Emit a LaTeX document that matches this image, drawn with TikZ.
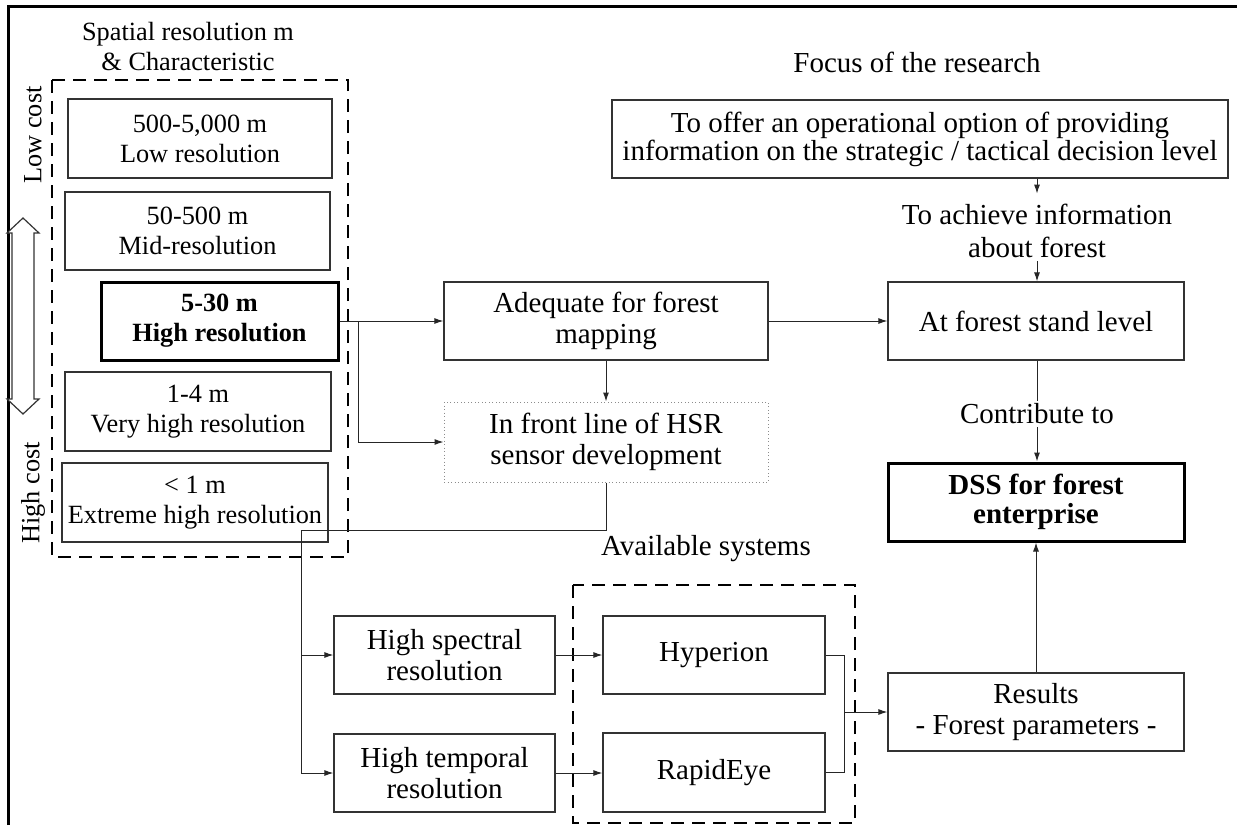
\documentclass[tikz,border=0pt]{standalone}
\usepackage{fontspec}
\setmainfont{Liberation Serif}
\usetikzlibrary{arrows.meta}
\newcommand{\fsR}{\fontsize{29}{31}\selectfont}
\newcommand{\fsL}{\fontsize{26.3}{30}\selectfont}
\tikzset{
  box/.style={draw=black!80, line width=1.2pt, fill=white, align=center, inner sep=0pt, font=\fsR},
  lbox/.style={box, font=\fsL},
  thickbox/.style={box, draw=black, line width=3pt},
  lbl/.style={align=center, inner sep=0pt, font=\fsR},
  arr/.style={-{Latex[length=9pt,width=6pt]}, line width=1pt, draw=black!85},
  ln/.style={line width=1pt, draw=black!85},
  grp/.style={draw=black, line width=2pt, dash pattern=on 13pt off 8pt},
}
\begin{document}
\begin{tikzpicture}[x=1pt,y=-1pt]
\useasboundingbox (0,0) rectangle (1237,825);
% frame
\draw[line width=3pt] (8,825) -- (8,6) -- (1237,6);

% left group
\node[lbl, font=\fsL] (sptitle) at (188,47) {Spatial resolution m\\\& Characteristic};
\draw[grp] (52,80) rectangle (348,557);
\node[lbox, minimum width=264pt, minimum height=79pt] (lowres) at (200,138.5) {500-5,000 m\\Low resolution};
\node[lbox, minimum width=265pt, minimum height=78pt] (midres) at (197.5,231) {50-500 m\\Mid-resolution};
\node[lbox, thickbox, font=\fsL\bfseries, minimum width=237pt, minimum height=78pt] (highres) at (219.5,321) {5-30 m\\High resolution};
\node[lbox, minimum width=266pt, minimum height=79pt] (vhighres) at (198,411.5) {1-4 m\\Very high resolution};
\node[lbox, minimum width=266pt, minimum height=79pt] (extreme) at (195,502.5) {{<} 1 m\\Extreme high resolution};

% cost arrow
\draw[line width=1.2pt, draw=black!80, fill=white] (23,218) -- (39,233) -- (34,233) -- (34,399) -- (39,399) -- (23,414) -- (7,399) -- (12,399) -- (12,233) -- (7,233) -- cycle;
\node[lbl, font=\fsL, rotate=90] (lowcost) at (33,135) {Low cost};
\node[lbl, font=\fsL, rotate=90] (highcost) at (33,493) {High cost};

% middle
\node[box, minimum width=324pt, minimum height=78pt] (adequate) at (606,321) {Adequate for forest\\mapping};
\node[box, draw=black!45, dash pattern=on 1pt off 2.5pt, line width=1pt, minimum width=324pt, minimum height=80pt] (frontline) at (606,442) {In front line of HSR\\sensor development};

% right top
\node[lbl] (focus) at (917,62) {Focus of the research};
\node[box, font=\fontsize{29}{28}\selectfont, minimum width=616pt, minimum height=78pt] (topbox) at (920,139) {To offer an operational option of providing\\information on the strategic / tactical decision level};
\node[lbl, font=\fontsize{29}{33}\selectfont] (achieve) at (1037,231) {To achieve information\\about forest};
\node[box, minimum width=296pt, minimum height=78pt] (atforest) at (1036,321) {At forest stand level};
\node[lbl, inner ysep=3pt, fill=white] (contribute) at (1037,414) {Contribute to};
\node[box, thickbox, font=\fontsize{29}{29}\selectfont\bfseries, minimum width=296pt, minimum height=78pt] (dss) at (1036,502) {DSS for forest\\enterprise};
\node[box, minimum width=296pt, minimum height=78pt] (results) at (1036,712) {Results\\- Forest parameters -};

% bottom
\node[lbl] (available) at (706,549) {Available systems};
\draw[grp] (573,585) rectangle (855,823);
\node[box, minimum width=222pt, minimum height=78pt] (hyperion) at (714,655) {Hyperion};
\node[box, minimum width=222pt, minimum height=79pt] (rapideye) at (714,772.5) {RapidEye};
\node[box, minimum width=221pt, minimum height=78pt] (spectral) at (444.5,655) {High spectral\\resolution};
\node[box, minimum width=221pt, minimum height=78pt] (temporal) at (444.5,773) {High temporal\\resolution};

% connectors
\coordinate (hsplit) at (358,321);
\draw[arr] (highres.east) -- (adequate.west);
\draw[arr] (hsplit) |- (frontline.west);
\draw[arr] (adequate.south) -- (frontline.north);
\draw[arr] (adequate.east) -- (atforest.west);
\draw[arr] (topbox.south -| achieve.north) -- ++(0,15);
\draw[arr] (achieve.south) ++(0,3) -- (atforest.north -| achieve.south);
\draw[ln] (atforest.south -| contribute.north) -- (contribute.north);
\draw[arr] (contribute.south) -- (dss.north -| contribute.south);
\draw[arr] (results.north) -- (dss.south);

\coordinate (c1) at (301,530);
\draw[ln] (frontline.south) |- (c1);
\draw[arr] (c1) |- (temporal.west);
\draw[arr] (c1) |- (spectral.west);
\draw[arr] (spectral.east) -- (hyperion.west);
\draw[arr] (temporal.east) -- (temporal.east -| rapideye.west);

\coordinate (m) at (844,712);
\draw[ln] (hyperion.east) -| (m);
\draw[ln] (rapideye.east) -| (m);
\draw[arr] (m) -- (results.west);
\end{tikzpicture}
\end{document}
